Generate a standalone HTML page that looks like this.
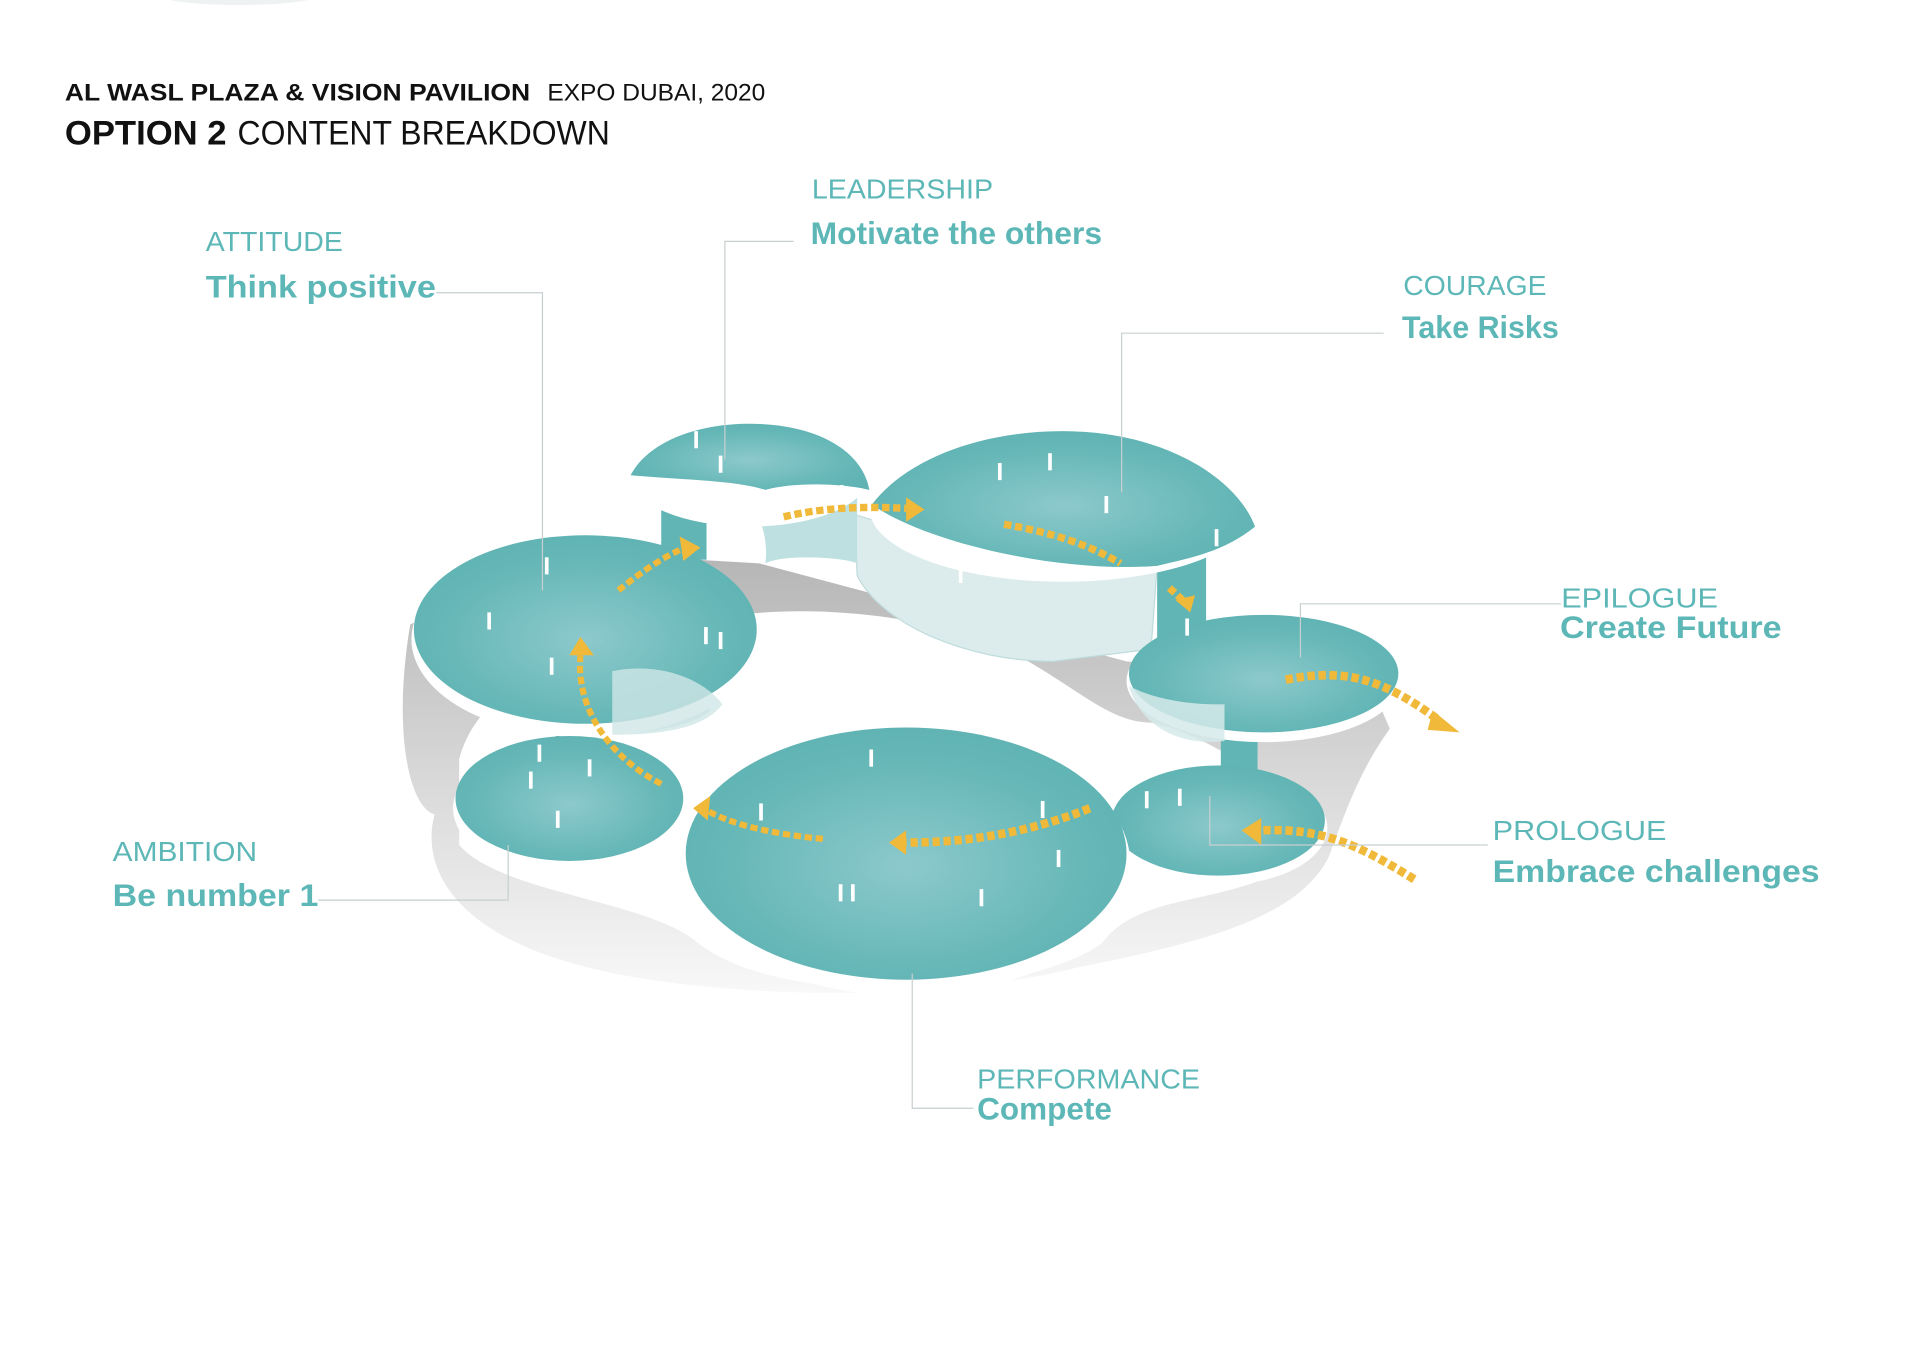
<!DOCTYPE html>
<html><head><meta charset="utf-8"><style>
html,body{margin:0;padding:0;background:#fff;}
svg{display:block;}
text{font-family:"Liberation Sans",sans-serif;}
.lt{fill:#5db7b7;font-size:23px;font-weight:300;}
.bd{fill:#5db7b7;font-size:26px;font-weight:bold;}
.ln{stroke:#c8cfd0;stroke-width:1;fill:none;}
.ar{stroke:#f0b93a;fill:none;stroke-dasharray:6 3;}
</style></head><body>
<svg width="1920" height="1357" viewBox="0 0 1568 1108" xmlns="http://www.w3.org/2000/svg">
<defs>
<radialGradient id="tg" cx="0.5" cy="0.55" r="0.6">
<stop offset="0" stop-color="#8cc9cc"/><stop offset="0.7" stop-color="#66b7b7"/><stop offset="1" stop-color="#5fb3b3"/>
</radialGradient>
<linearGradient id="sg" x1="0" y1="0" x2="0" y2="1">
<stop offset="0" stop-color="#b5b5b5"/><stop offset="0.6" stop-color="#dedede"/><stop offset="1" stop-color="#f8f8f8"/>
</linearGradient>
</defs>
<ellipse cx="195" cy="-6" rx="70" ry="10" fill="#eef2f2"/>
<text x="53" y="82" style="font-size:20px;font-weight:bold;fill:#111" textLength="380" lengthAdjust="spacingAndGlyphs">AL WASL PLAZA &amp; VISION PAVILION</text>
<text x="447" y="82" style="font-size:20px;fill:#111" textLength="178" lengthAdjust="spacingAndGlyphs">EXPO DUBAI, 2020</text>
<text x="53" y="118" style="font-size:28px;font-weight:bold;fill:#111" textLength="132" lengthAdjust="spacingAndGlyphs">OPTION 2</text>
<text x="194" y="118" style="font-size:28px;fill:#111" textLength="304" lengthAdjust="spacingAndGlyphs">CONTENT BREAKDOWN</text>

<!-- base shadow -->
<path d="M335 510 C320 600 335 660 355 665 C345 700 360 760 480 790 C580 815 760 820 880 790 C980 770 1060 750 1085 700 C1100 660 1110 630 1135 595 L1120 560 L920 540 L620 460 L450 450 Z" fill="url(#sg)"/>
<!-- white plaza core -->
<path d="M375 620 C390 560 470 520 560 510 C640 490 730 500 800 520 C870 550 900 590 940 590 C990 600 1030 640 1060 640 L1050 710 C990 740 930 730 900 770 C840 815 640 825 570 770 C530 735 410 730 375 690 Z" fill="#fff"/>

<!-- walls translucent -->
<path d="M698 420 L700 470 C720 510 790 540 860 540 L940 530 L945 462 C880 470 760 440 698 420 Z" fill="#dcecec" stroke="#bfdcdc"/>
<path d="M600 400 L640 395 C660 390 690 395 700 400 L700 460 C690 455 640 452 625 460 C628 440 620 410 600 400 Z" fill="#bfe0e0"/>
<path d="M500 545 C540 540 570 560 580 580 C570 590 540 598 500 600 Z" fill="#cfe6e6"/>

<!-- columns -->
<rect x="540" y="395" width="37" height="62" fill="#62b5b5"/>
<rect x="454" y="545" width="34" height="57" fill="#62b5b5"/>
<rect x="945" y="455" width="40" height="70" fill="#62b5b5"/>
<rect x="997" y="570" width="30" height="60" fill="#62b5b5"/>

<!-- bowls -->
<ellipse cx="478" cy="522" rx="142" ry="80" fill="#fff"/>
<ellipse cx="478" cy="514" rx="140" ry="77" fill="url(#tg)"/>
<path d="M500 548 C540 540 575 555 590 575 C575 595 540 600 500 600 Z" fill="#cfe6e6" opacity="0.8"/>
<ellipse cx="612" cy="388" rx="98" ry="42" fill="#fff"/>
<path d="M515 388 C530 360 570 346 612 346 C670 346 705 370 710 400 C690 395 650 393 625 400 C600 392 560 392 515 388 Z" fill="url(#tg)"/>
<ellipse cx="868" cy="415" rx="158" ry="60" fill="#fff"/>
<path d="M712 412 C740 375 800 352 868 352 C950 352 1010 390 1025 430 C1000 450 975 455 945 462 C870 468 760 445 712 412 Z" fill="url(#tg)"/>
<ellipse cx="1032" cy="556" rx="112" ry="50" fill="#fff"/>
<ellipse cx="1032" cy="550" rx="110" ry="48" fill="url(#tg)"/>
<path d="M922 560 C930 590 960 610 1000 605 L1000 575 C970 576 940 570 922 560 Z" fill="#d6eaea" opacity="0.85"/>
<ellipse cx="995" cy="676" rx="89" ry="47" fill="#fff"/>
<ellipse cx="995" cy="670" rx="87" ry="45" fill="url(#tg)"/>
<ellipse cx="465" cy="660" rx="95" ry="55" fill="#fff"/>
<ellipse cx="465" cy="652" rx="93" ry="51" fill="url(#tg)"/>
<ellipse cx="740" cy="705" rx="183" ry="108" fill="#fff"/>
<ellipse cx="740" cy="697" rx="180" ry="103" fill="url(#tg)"/>

<!-- people -->
<g fill="#fff">
<rect x="567" y="352" width="3" height="14"/><rect x="587" y="372" width="3" height="14"/><rect x="686" y="396" width="3" height="14"/>
<rect x="815" y="378" width="3" height="14"/><rect x="856" y="370" width="3" height="14"/><rect x="902" y="405" width="3" height="14"/><rect x="992" y="432" width="3" height="14"/><rect x="783" y="462" width="3" height="14"/>
<rect x="445" y="455" width="3" height="14"/><rect x="398" y="500" width="3" height="14"/><rect x="575" y="512" width="3" height="14"/><rect x="587" y="516" width="3" height="14"/><rect x="449" y="537" width="3" height="14"/>
<rect x="439" y="608" width="3" height="14"/><rect x="480" y="620" width="3" height="14"/><rect x="432" y="630" width="3" height="14"/><rect x="454" y="662" width="3" height="14"/>
<rect x="710" y="612" width="3" height="14"/><rect x="620" y="656" width="3" height="14"/><rect x="850" y="654" width="3" height="14"/><rect x="863" y="694" width="3" height="14"/><rect x="685" y="722" width="3" height="14"/><rect x="695" y="722" width="3" height="14"/><rect x="800" y="726" width="3" height="14"/>
<rect x="935" y="646" width="3" height="14"/><rect x="962" y="644" width="3" height="14"/><rect x="968" y="505" width="3" height="14"/>
</g>

<!-- arrows -->
<g>
<path class="ar" d="M640 422 C670 415 700 413 740 415" stroke-width="6"/><path d="M740 406 L755 416 L740 426 Z" fill="#f0b93a"/>
<path class="ar" d="M820 428 C860 435 890 445 915 460" stroke-width="6"/>
<path class="ar" d="M505 482 C520 470 540 455 560 447" stroke-width="5"/><path d="M555 438 L572 447 L558 458 Z" fill="#f0b93a"/>
<path class="ar" d="M540 640 C500 620 470 580 474 535" stroke-width="5"/><path d="M465 535 L474 520 L485 535 Z" fill="#f0b93a"/>
<path class="ar" d="M672 685 C640 682 600 675 578 662" stroke-width="5"/><path d="M580 650 L566 660 L578 670 Z" fill="#f0b93a"/>
<path class="ar" d="M890 660 C840 680 790 688 740 688" stroke-width="7"/><path d="M740 678 L726 688 L740 698 Z" fill="#f0b93a"/>
<path class="ar" d="M1155 718 C1110 690 1080 676 1030 678" stroke-width="7"/><path d="M1030 668 L1014 678 L1030 690 Z" fill="#f0b93a"/>
<path class="ar" d="M1050 555 C1100 545 1130 555 1175 588" stroke-width="7"/><path d="M1170 580 L1192 598 L1166 596 Z" fill="#f0b93a"/>
<path class="ar" d="M955 480 L968 492" stroke-width="6"/><path d="M960 490 L972 500 L976 486 Z" fill="#f0b93a"/>
</g>

<!-- leader lines -->
<path class="ln" d="M356 239 H443 V482"/>
<path class="ln" d="M648 197 H592 V375"/>
<path class="ln" d="M1130 272 H916 V402"/>
<path class="ln" d="M1275 493 H1062 V537"/>
<path class="ln" d="M1215 690 H988 V650"/>
<path class="ln" d="M260 735 H415 V690"/>
<path class="ln" d="M795 905 H745 V795"/>

<!-- labels -->
<text class="lt" x="168" y="205" textLength="112" lengthAdjust="spacingAndGlyphs">ATTITUDE</text><text class="bd" x="168" y="243" textLength="188" lengthAdjust="spacingAndGlyphs">Think positive</text>
<text class="lt" x="663" y="162" textLength="148" lengthAdjust="spacingAndGlyphs">LEADERSHIP</text><text class="bd" x="662" y="199" textLength="238" lengthAdjust="spacingAndGlyphs">Motivate the others</text>
<text class="lt" x="1146" y="241" textLength="117" lengthAdjust="spacingAndGlyphs">COURAGE</text><text class="bd" x="1145" y="276" textLength="128" lengthAdjust="spacingAndGlyphs">Take Risks</text>
<text class="lt" x="1275" y="496" textLength="128" lengthAdjust="spacingAndGlyphs">EPILOGUE</text><text class="bd" x="1274" y="521" textLength="181" lengthAdjust="spacingAndGlyphs">Create Future</text>
<text class="lt" x="1219" y="686" textLength="142" lengthAdjust="spacingAndGlyphs">PROLOGUE</text><text class="bd" x="1219" y="720" textLength="267" lengthAdjust="spacingAndGlyphs">Embrace challenges</text>
<text class="lt" x="92" y="703" textLength="118" lengthAdjust="spacingAndGlyphs">AMBITION</text><text class="bd" x="92" y="740" textLength="168" lengthAdjust="spacingAndGlyphs">Be number 1</text>
<text class="lt" x="798" y="889" textLength="182" lengthAdjust="spacingAndGlyphs">PERFORMANCE</text><text class="bd" x="798" y="914" textLength="110" lengthAdjust="spacingAndGlyphs">Compete</text>
</svg>
</body></html>
